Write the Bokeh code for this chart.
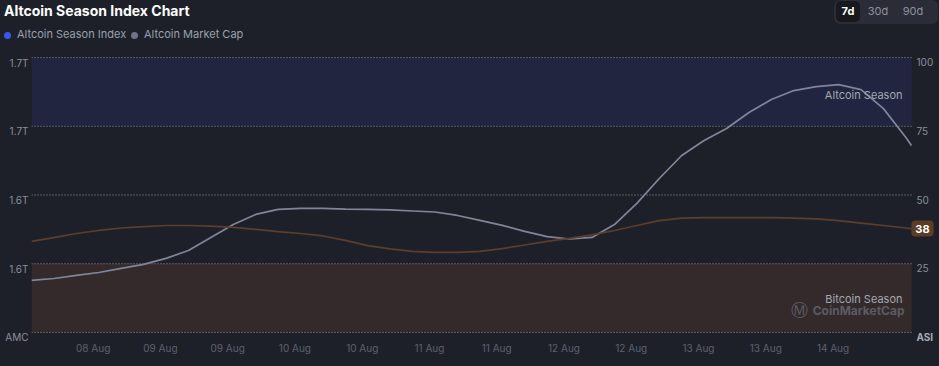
import pandas as pd
from bokeh.plotting import figure
from bokeh.layouts import column
from bokeh.models import (Range1d, LinearAxis, FixedTicker, DatetimeTickFormatter,
                          BoxAnnotation, Label, Div)
from bokeh.embed import file_html
from bokeh.resources import INLINE

# ---------------- data ----------------
times = [
    "2024-08-08 01:00", "2024-08-08 05:00", "2024-08-08 09:00", "2024-08-08 13:00", "2024-08-08 17:00", "2024-08-08 21:00",
    "2024-08-09 01:00", "2024-08-09 05:00", "2024-08-09 09:00", "2024-08-09 13:00", "2024-08-09 17:00", "2024-08-09 21:00",
    "2024-08-10 01:00", "2024-08-10 05:00", "2024-08-10 09:00", "2024-08-10 13:00", "2024-08-10 17:00", "2024-08-10 21:00",
    "2024-08-11 01:00", "2024-08-11 05:00", "2024-08-11 09:00", "2024-08-11 13:00", "2024-08-11 17:00", "2024-08-11 21:00",
    "2024-08-12 01:00", "2024-08-12 05:00", "2024-08-12 09:00", "2024-08-12 13:00", "2024-08-12 17:00", "2024-08-12 21:00",
    "2024-08-13 01:00", "2024-08-13 05:00", "2024-08-13 09:00", "2024-08-13 13:00", "2024-08-13 17:00", "2024-08-13 21:00",
    "2024-08-14 01:00", "2024-08-14 05:00", "2024-08-14 09:00", "2024-08-14 13:00", "2024-08-14 14:00",
]

# Altcoin Market Cap (billions USD, left axis)
market_cap = [
    1585.3, 1586.4, 1588.2, 1589.9, 1592.3, 1594.6, 1598.1, 1602.7, 1610.3, 1617.8,
    1623.7, 1626.6, 1627.2, 1627.2, 1626.8, 1626.6, 1626.3, 1625.7, 1625.1, 1623.1,
    1620.2, 1617.3, 1613.8, 1610.8, 1609.4, 1610.3, 1617.8, 1630.1, 1644.6, 1658.0,
    1666.7, 1673.7, 1683.0, 1690.6, 1695.8, 1698.1, 1699.3, 1696.4, 1685.3, 1668.5, 1663.8,
]

# Altcoin Season Index (0-100, right scale)
asi = [
    33.1, 34.5, 36.0, 37.1, 38.0, 38.5, 38.9, 38.9, 38.7, 38.2,
    37.5, 36.7, 36.0, 35.1, 33.5, 31.6, 30.4, 29.5, 29.1, 29.1,
    29.5, 30.5, 31.8, 33.1, 34.2, 35.5, 37.1, 38.9, 40.7, 41.6,
    41.8, 41.8, 41.8, 41.8, 41.6, 41.3, 40.7, 39.8, 38.9, 38.0, 37.8,
]

x_ticks = [
    "2024-08-08 12:00", "2024-08-09 00:00", "2024-08-09 12:00", "2024-08-10 00:00",
    "2024-08-10 12:00", "2024-08-11 00:00", "2024-08-11 12:00", "2024-08-12 00:00",
    "2024-08-12 12:00", "2024-08-13 00:00", "2024-08-13 12:00", "2024-08-14 00:00",
]

asi_ticks = [0, 25, 50, 75, 100]
asi_tick_labels = ["ASI", "25", "50", "75", "100"]
mc_ticks = [1555, 1595, 1635, 1675, 1715]
mc_tick_labels = ["AMC", "1.6T", "1.6T", "1.7T", "1.7T"]

series_names = ["Altcoin Season Index", "Altcoin Market Cap"]
series_dot_colors = ["#3b55f0", "#6f7388"]
zone_names = ["Altcoin Season", "Bitcoin Season"]
zone_bounds = [(75, 100), (0, 25)]
title_text = "Altcoin Season Index Chart"
ranges = ["7d", "30d", "90d"]

# ---------------- styling ----------------
BG = "#1e2029"
FONT = "Inter"
GRAY_LINE = "#80859a"
BROWN_LINE = "#5c3e2a"
TICK_COLOR = "#8b8f9a"
W = 939
TOTAL_H = 366
HEAD_H = 55
MAIN_H = TOTAL_H - HEAD_H

t = [pd.Timestamp(s).to_pydatetime() for s in times]
tick_ms = [pd.Timestamp(s).value // 10**6 for s in x_ticks]

# ================= header (title, legend, range toggle) =================
legend_html = "".join(
    f'<span style="position:absolute;left:{lx}px;top:28px;height:14px;display:flex;align-items:center;'
    f'white-space:nowrap;color:#9aa0ad;font-size:11px;">'
    f'<span style="display:inline-block;width:7px;height:7px;border-radius:50%;background:{c};'
    f'margin-right:6.5px;"></span>{name}</span>'
    for lx, name, c in zip([3.5, 130.5], series_names, series_dot_colors)
)
toggle_html = "".join(
    f'<span style="position:absolute;left:{lx}px;top:1px;width:{wd}px;height:21px;line-height:21px;'
    f'text-align:center;font-size:11px;border-radius:5px;'
    + ('color:#ffffff;font-weight:700;background:#17191f;' if i == 0 else 'color:#8d919c;')
    + f'">{lab}</span>'
    for i, (lab, lx, wd) in enumerate(zip(ranges, [2, 30, 65], [24, 28, 28]))
)
header_html = (
    f'<div style="position:relative;width:{W}px;height:{HEAD_H}px;font-family:Inter,sans-serif;">'
    f'<div style="position:absolute;left:0px;top:0px;width:{W}px;height:{TOTAL_H}px;background:{BG};z-index:-1;"></div>'
    f'<div style="position:absolute;left:4px;top:1px;height:20px;line-height:20px;font-size:14px;'
    f'font-weight:700;color:#ffffff;white-space:nowrap;">{title_text}</div>'
    + legend_html
    + f'<div style="position:absolute;left:834px;top:0px;width:104px;height:24px;border-radius:6px;'
      f'background:#2a2d38;">{toggle_html}</div>'
    + '</div>'
)
header = Div(text=header_html, width=W, height=HEAD_H, margin=0,
             styles={"background-color": BG, "overflow": "visible"})

# ================= main chart =================
pad_top = 0.4       # small padding so the top gridline is not clipped
pad_bottom = 3.3    # room for the bottom scale labels inside the frame
frame_left = 31
data_px = 880       # width of the data area in pixels
frame_px = W - frame_left
hours = (t[-1] - t[0]).total_seconds() / 3600
x_end = t[-1] + pd.Timedelta(hours=hours * (frame_px - data_px) / data_px)
mc_span = mc_ticks[-1] - mc_ticks[0]
asi_span = asi_ticks[-1] - asi_ticks[0]
k = mc_span / asi_span

p = figure(width=W, height=MAIN_H, x_axis_type="datetime", y_axis_location=None,
           x_range=Range1d(t[0], x_end),
           y_range=Range1d(asi_ticks[0] - pad_bottom, asi_ticks[-1] + pad_top),
           output_backend="svg", toolbar_location=None,
           min_border_left=frame_left, min_border_right=0, min_border_top=1,
           min_border_bottom=25,
           background_fill_color=BG, border_fill_color=BG, outline_line_color=None,
           margin=0)
p.extra_y_ranges = {"mc": Range1d(mc_ticks[0] - pad_bottom * k, mc_ticks[-1] + pad_top * k)}
p.xgrid.visible = False
p.ygrid.visible = False

# zone bands
band_colors = ["#21253f", "#352a2b"]
for (lo, hi), c in zip(zone_bounds, band_colors):
    p.add_layout(BoxAnnotation(bottom=lo, top=hi, right=t[-1], fill_color=c, fill_alpha=1.0,
                               line_alpha=0, level="image"))

# dotted gridlines (end at the data end)
p.segment(x0=[t[0]] * len(asi_ticks), x1=[t[-1]] * len(asi_ticks), y0=asi_ticks, y1=asi_ticks,
          line_color="#a3a7b1", line_alpha=0.85, line_width=1, line_dash="1 2",
          level="underlay")

# lines
p.line(t, market_cap, y_range_name="mc", line_color=GRAY_LINE, line_width=1.7)
p.line(t, asi, line_color=BROWN_LINE, line_width=1.7)

# left axis (AMC); labels sit a few pixels under their gridlines as in the original
label_drop = 5 * mc_span / 275
la_ticks = [v - label_drop for v in mc_ticks]
la = LinearAxis(y_range_name="mc", ticker=FixedTicker(ticks=la_ticks),
                major_label_overrides={v: l for v, l in zip(la_ticks, mc_tick_labels)},
                axis_line_color=None, major_tick_line_color=None, minor_tick_line_color=None,
                major_tick_out=0, minor_tick_out=0, major_tick_in=0, minor_tick_in=0,
                major_label_text_color=TICK_COLOR, major_label_text_font=FONT,
                major_label_text_font_size="10px", major_label_standoff=3)
p.add_layout(la, "left")

# right scale labels (ASI), drawn beside the data end
for v, lab in zip(asi_ticks, asi_tick_labels):
    bold = v == asi_ticks[0]
    p.add_layout(Label(x=t[-1], y=v, x_offset=5, y_offset=-4.5, text=lab, text_align="left",
                       text_baseline="middle", text_color="#a7abb5" if bold else TICK_COLOR,
                       text_font=FONT, text_font_size="10px",
                       text_font_style="bold" if bold else "normal"))

# x axis
xa = p.xaxis[0]
xa.ticker = FixedTicker(ticks=tick_ms)
fmt = "%d %b"
xa.formatter = DatetimeTickFormatter(milliseconds=fmt, seconds=fmt, minsec=fmt, minutes=fmt,
                                     hourmin=fmt, hours=fmt, days=fmt, months=fmt, years=fmt,
                                     context=None)
xa.axis_line_color = None
xa.major_tick_line_color = None
xa.minor_tick_line_color = None
xa.major_tick_out = 0
xa.minor_tick_out = 0
xa.major_tick_in = 0
xa.minor_tick_in = 0
xa.major_label_text_color = "#5d616d"
xa.major_label_text_font = FONT
xa.major_label_text_font_size = "10px"
xa.major_label_standoff = 0

# zone texts
for name, yv in zip(zone_names, [86.5, 12.0]):
    p.add_layout(Label(x=t[-1], y=yv, x_offset=-9, text=name, text_align="right",
                       text_baseline="middle", text_color="#a4a8b3", text_font=FONT,
                       text_font_size="11px"))

# watermark
p.add_layout(Label(x=t[-1], y=8.0, x_offset=-7, text="CoinMarketCap", text_align="right",
                   text_baseline="middle", text_color="#6a6d78", text_alpha=0.75,
                   text_font=FONT, text_font_size="12px", text_font_style="bold"))
p.add_layout(Label(x=t[-1], y=8.0, x_offset=-104, text="\u24c2", text_align="right",
                   text_baseline="middle", text_color="#6a6d78", text_alpha=0.75,
                   text_font="DejaVu Sans", text_font_size="17px"))

# current value badge
p.add_layout(Label(x=t[-1], y=asi[-1], x_offset=11, text=str(round(asi[-1])),
                   text_align="center", text_baseline="middle", text_color="#ffffff",
                   text_font=FONT, text_font_size="11px", text_font_style="bold",
                   background_fill_color="#5b3c27", border_radius=4, padding=4))

layout = column(header, p, spacing=0)
open("out.html", "w").write(file_html(layout, INLINE))
